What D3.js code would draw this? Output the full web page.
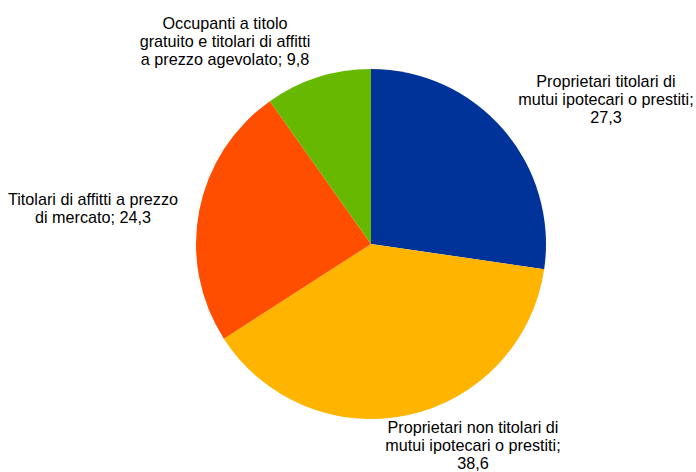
<!DOCTYPE html>
<html><head><meta charset="utf-8">
<script src="https://cdn.jsdelivr.net/npm/d3@7"></script>
<style>html,body{margin:0;padding:0;background:#fff;}</style>
</head><body>
<script>
const categories = [
  "Proprietari titolari di mutui ipotecari o prestiti",
  "Proprietari non titolari di mutui ipotecari o prestiti",
  "Titolari di affitti a prezzo di mercato",
  "Occupanti a titolo gratuito e titolari di affitti a prezzo agevolato"
];
const values = [27.3, 38.6, 24.3, 9.8];
const valueLabels = ["27,3", "38,6", "24,3", "9,8"];
const labelLines = [
  ["Proprietari titolari di", "mutui ipotecari o prestiti;", "27,3"],
  ["Proprietari non titolari di", "mutui ipotecari o prestiti;", "38,6"],
  ["Titolari di affitti a prezzo", "di mercato; 24,3"],
  ["Occupanti a titolo", "gratuito e titolari di affitti", "a prezzo agevolato; 9,8"]
];
const colors = ["#003399", "#FFB400", "#FF4E00", "#66B900"];

const W = 696, H = 472;
const cx = 371, cy = 244, R = 175;
const labelPos = [[606, 87], [473, 433], [93, 205], [225, 29]];
const lineH = 17.8;

const svg = d3.select("body").append("svg").attr("width", W).attr("height", H);
const pie = d3.pie().sort(null).value(d => d)(values);
const arc = d3.arc().innerRadius(0).outerRadius(R);
const g = svg.append("g").attr("transform", `translate(${cx},${cy})`);
g.selectAll("path").data(pie).join("path")
  .attr("d", arc)
  .attr("fill", (d, i) => colors[i]);

const lg = svg.append("g")
  .attr("font-family", "'Liberation Sans', Arial, sans-serif")
  .attr("font-size", 16.2).attr("fill", "#000").attr("text-anchor", "middle");
labelLines.forEach((lines, i) => {
  const t = lg.append("text").attr("x", labelPos[i][0]).attr("y", labelPos[i][1]);
  lines.forEach((ln, j) => {
    t.append("tspan").attr("x", labelPos[i][0]).attr("dy", j === 0 ? 0 : lineH).text(ln);
  });
});
</script>
</body></html>
